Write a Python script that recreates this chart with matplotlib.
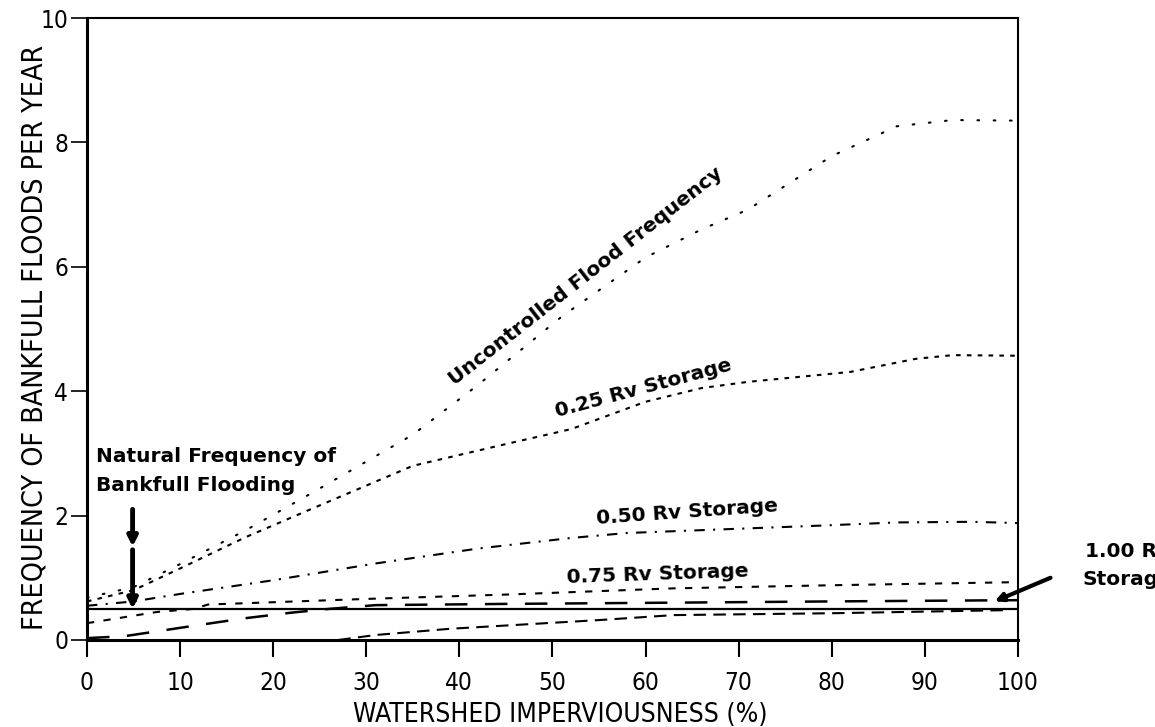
"""Bankfull flood frequency vs watershed imperviousness, by storage volume."""
import matplotlib
matplotlib.use("Agg")
import matplotlib.pyplot as plt

X_UNC = [0, 5, 10, 17, 24, 35, 42, 51, 60, 66, 71, 80, 87, 93, 100]
Y_UNC = [0.68, 0.85, 1.22, 1.76, 2.35, 3.3, 4.1, 5.2, 6.15, 6.6, 6.92, 7.78, 8.26, 8.36, 8.35]

X_25 = [0, 5, 10, 17, 24, 35, 45, 52, 60, 66, 71, 82, 89, 93, 100]
Y_25 = [0.62, 0.8, 1.15, 1.65, 2.1, 2.8, 3.15, 3.39, 3.83, 4.05, 4.15, 4.31, 4.52, 4.58, 4.57]

X_50 = [0, 5, 10, 20, 31, 42, 52, 58, 65, 79, 87, 95, 100]
Y_50 = [0.55, 0.62, 0.74, 0.96, 1.23, 1.47, 1.64, 1.72, 1.76, 1.84, 1.89, 1.9, 1.88]

X_75 = [0, 7.5, 11.5, 13, 30, 45, 63, 80, 100]
Y_75 = [0.27, 0.45, 0.5, 0.57, 0.66, 0.73, 0.83, 0.88, 0.93]

X_100 = [0, 4, 8, 12, 17, 22, 26, 31, 45, 63, 80, 100]
Y_100 = [0.03, 0.06, 0.15, 0.24, 0.35, 0.44, 0.5, 0.56, 0.58, 0.6, 0.62, 0.64]

X_LOW = [27, 31, 39, 55, 63, 80, 99]
Y_LOW = [0.0, 0.08, 0.18, 0.32, 0.4, 0.43, 0.48]

NATURAL = 0.5

XTICKS = [0, 10, 20, 30, 40, 50, 60, 70, 80, 90, 100]
XTICK_LABELS = ["0", "10", "20", "30", "40", "50", "60", "70", "80", "90", "100"]
YTICKS = [0, 2, 4, 6, 8, 10]
YTICK_LABELS = ["0", "2", "4", "6", "8", "10"]

AXF = dict(family="DejaVu Sans", stretch="condensed")
LAB = dict(family="DejaVu Sans", weight="bold", fontsize=14.5)

fig = plt.figure(figsize=(11.55, 7.27), dpi=100)
ax = fig.add_axes([0.0753, 0.1197, 0.806, 0.8555])

lw = 1.5
ax.plot(X_UNC, Y_UNC, color="black", lw=lw, ls=(0, (0.8, 7)), dash_capstyle="round")
ax.plot(X_25, Y_25, color="black", lw=lw, ls=(0, (2.2, 3)))
ax.plot(X_50, Y_50, color="black", lw=lw, ls=(0, (5, 4, 1, 4)))
ax.plot(X_75, Y_75, color="black", lw=lw, ls=(0, (3.5, 4.5)))
ax.plot(X_100, Y_100, color="black", lw=1.8, ls=(0, (9, 7)))
ax.plot(X_LOW, Y_LOW, color="black", lw=lw, ls=(0, (6, 3.5)))
ax.axhline(NATURAL, color="black", lw=1.6)

ax.set_xlim(0, 100); ax.set_ylim(0, 10)
ax.set_xticks(XTICKS); ax.set_xticklabels(XTICK_LABELS, fontsize=17.5, **AXF)
ax.set_yticks(YTICKS); ax.set_yticklabels(YTICK_LABELS, fontsize=17.5, **AXF)
ax.tick_params(axis="x", direction="out", length=12, width=1.5, pad=10)
ax.tick_params(axis="y", direction="out", length=11.5, width=1.2, pad=2)
for s in ("left", "bottom"):
    ax.spines[s].set_linewidth(2.2)
for s in ("top", "right"):
    ax.spines[s].set_linewidth(1.5)

ax.set_xlabel("WATERSHED IMPERVIOUSNESS (%)", fontsize=19, **AXF)
ax.xaxis.set_label_coords(0.508, -0.099)
ax.set_ylabel("FREQUENCY OF BANKFULL FLOODS PER YEAR", fontsize=20.5, **AXF)
ax.yaxis.set_label_coords(-0.041, 0.487)

tk = dict(ha="center", va="center", rotation_mode="anchor", **LAB)
ax.text(53.6, 5.85, "Uncontrolled Flood Frequency", rotation=38, **tk)
ax.text(59.8, 4.05, "0.25 Rv Storage", rotation=15, **tk)
ax.text(64.5, 2.05, "0.50 Rv Storage", rotation=4, **tk)
ax.text(61.3, 1.05, "0.75 Rv Storage", rotation=2, **tk)
ax.text(1.0, 2.72, "Natural Frequency of\nBankfull Flooding", ha="left", va="center",
        linespacing=1.65, **LAB)

ap = dict(arrowstyle="-|>", lw=3.5, color="black", mutation_scale=14, shrinkA=0, shrinkB=0)
ax.annotate("", xy=(4.9, 1.5), xytext=(4.9, 2.1), arrowprops=ap)
ax.annotate("", xy=(4.9, 0.5), xytext=(4.9, 1.45), arrowprops=ap)

ax.text(111.8, 1.2, "1.00 Rv\nStorage", ha="center", va="center", linespacing=1.6,
        clip_on=False, **LAB)
ax.annotate("", xy=(97.5, 0.62), xytext=(103.5, 1.0), annotation_clip=False,
            arrowprops=dict(arrowstyle="-|>", lw=3, color="black", mutation_scale=12,
                            shrinkA=0, shrinkB=0))

fig.savefig("out.png", dpi=100)
